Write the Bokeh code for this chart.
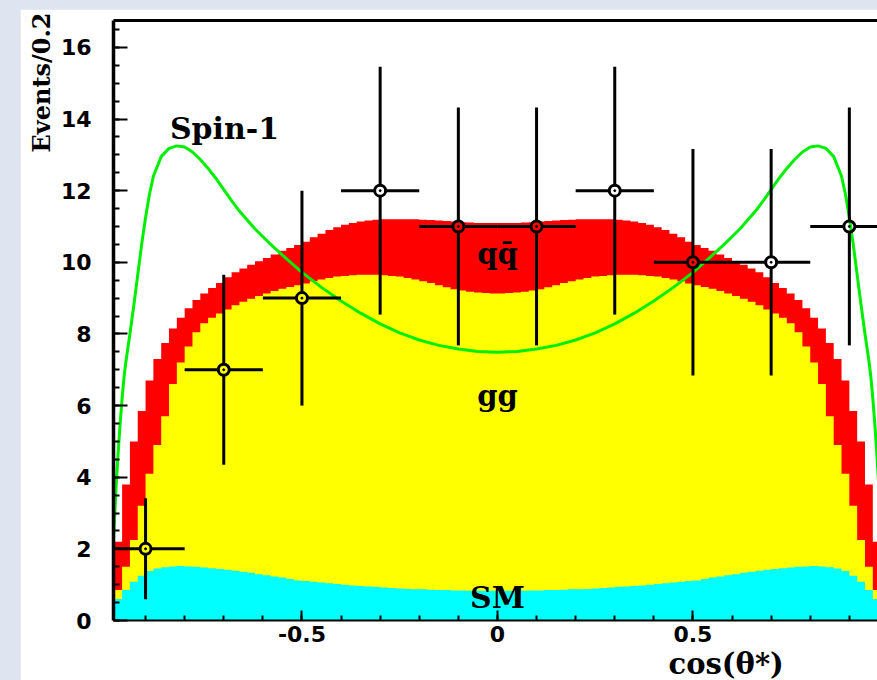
import numpy as np
from bokeh.plotting import figure
from bokeh.models import Range1d, LinearAxis, SingleIntervalTicker, FixedTicker, Label, Title, ColumnDataSource
from bokeh.layouts import column
from bokeh.embed import file_html
from bokeh.resources import INLINE

# ---------------- data ----------------
# histogram bins (width 0.02) on cos(theta*)
bin_centers = np.round(np.linspace(-0.99, 0.99, 100), 2)

# SM (cyan) – stack level 1
sm = [0.15, 0.6, 0.85, 1.08, 1.25, 1.38, 1.45, 1.49, 1.51, 1.52,
      1.51, 1.50, 1.48, 1.46, 1.44, 1.42, 1.39, 1.36, 1.33, 1.29,
      1.26, 1.23, 1.20, 1.16, 1.12, 1.10, 1.08, 1.06, 1.04, 1.02,
      1.00, 0.98, 0.96, 0.95, 0.94, 0.92, 0.91, 0.89, 0.88, 0.87,
      0.87, 0.86, 0.85, 0.85, 0.84, 0.84, 0.83, 0.83, 0.83, 0.83,
      0.83, 0.83, 0.83, 0.83, 0.84, 0.84, 0.85, 0.85, 0.86, 0.87,
      0.87, 0.88, 0.89, 0.91, 0.92, 0.94, 0.95, 0.96, 0.98, 1.00,
      1.02, 1.04, 1.06, 1.08, 1.10, 1.12, 1.16, 1.20, 1.23, 1.26,
      1.29, 1.33, 1.36, 1.39, 1.42, 1.44, 1.46, 1.48, 1.50, 1.51,
      1.52, 1.51, 1.49, 1.45, 1.38, 1.25, 1.08, 0.85, 0.60, 0.15]

# SM + gg (top of yellow)
sm_gg = [0.30, 0.85, 1.50, 2.25, 3.20, 4.10, 4.90, 5.70, 6.60, 7.20,
         7.65, 8.05, 8.30, 8.45, 8.57, 8.68, 8.80, 8.90, 8.98, 9.06,
         9.13, 9.20, 9.26, 9.31, 9.36, 9.41, 9.47, 9.52, 9.56, 9.60,
         9.62, 9.64, 9.65, 9.65, 9.65, 9.64, 9.62, 9.60, 9.56, 9.52,
         9.47, 9.42, 9.36, 9.30, 9.25, 9.21, 9.18, 9.16, 9.14, 9.13,
         9.13, 9.14, 9.16, 9.18, 9.21, 9.25, 9.30, 9.36, 9.42, 9.47,
         9.52, 9.56, 9.60, 9.62, 9.64, 9.65, 9.65, 9.65, 9.64, 9.62,
         9.60, 9.56, 9.52, 9.47, 9.41, 9.36, 9.31, 9.26, 9.20, 9.13,
         9.06, 8.98, 8.90, 8.80, 8.68, 8.57, 8.45, 8.30, 8.05, 7.65,
         7.20, 6.60, 5.70, 4.90, 4.10, 3.20, 2.25, 1.50, 0.85, 0.30]

# SM + gg + qqbar (top of red)
total = [0.60, 2.20, 3.80, 5.00, 5.85, 6.70, 7.30, 7.75, 8.15, 8.45,
         8.72, 8.95, 9.13, 9.28, 9.42, 9.58, 9.72, 9.83, 9.93, 10.03,
         10.12, 10.22, 10.32, 10.40, 10.48, 10.57, 10.70, 10.80, 10.90, 10.98,
         11.05, 11.10, 11.14, 11.17, 11.19, 11.20, 11.20, 11.20, 11.20, 11.20,
         11.19, 11.18, 11.17, 11.15, 11.14, 11.12, 11.11, 11.10, 11.10, 11.10,
         11.10, 11.10, 11.10, 11.11, 11.12, 11.14, 11.15, 11.17, 11.18, 11.19,
         11.20, 11.20, 11.20, 11.20, 11.20, 11.19, 11.17, 11.14, 11.10, 11.05,
         10.98, 10.90, 10.80, 10.70, 10.57, 10.48, 10.40, 10.32, 10.22, 10.12,
         10.03, 9.93, 9.83, 9.72, 9.58, 9.42, 9.28, 9.13, 8.95, 8.72,
         8.45, 8.15, 7.75, 7.30, 6.70, 5.85, 5.00, 3.80, 2.20, 0.60]

# Spin-1 curve
spin_x = [-0.985, -0.98, -0.975, -0.97, -0.965, -0.96, -0.955, -0.95, -0.94, -0.93,
          -0.92, -0.91, -0.90, -0.89, -0.88, -0.86, -0.84, -0.82, -0.80, -0.78,
          -0.76, -0.74, -0.72, -0.70, -0.68, -0.66, -0.62, -0.58, -0.54, -0.50,
          -0.45, -0.40, -0.35, -0.30, -0.25, -0.20, -0.15, -0.10, -0.05, 0.00,
          0.05, 0.10, 0.15, 0.20, 0.25, 0.30, 0.35, 0.40, 0.45, 0.50,
          0.54, 0.58, 0.62, 0.66, 0.68, 0.70, 0.72, 0.74, 0.76, 0.78,
          0.80, 0.82, 0.84, 0.86, 0.88, 0.89, 0.90, 0.91, 0.92, 0.93,
          0.94, 0.95, 0.955, 0.96, 0.965, 0.97, 0.975, 0.98, 0.985]
spin_y = [1.6, 2.7, 3.8, 4.7, 5.5, 6.2, 6.8, 7.25, 8.0, 8.8,
          9.65, 10.5, 11.25, 11.9, 12.4, 12.95, 13.18, 13.25, 13.22, 13.08,
          12.87, 12.62, 12.34, 12.03, 11.72, 11.43, 10.93, 10.5, 10.1, 9.72,
          9.3, 8.92, 8.58, 8.28, 8.03, 7.83, 7.68, 7.58, 7.51, 7.49,
          7.51, 7.58, 7.68, 7.83, 8.03, 8.28, 8.58, 8.92, 9.3, 9.72,
          10.1, 10.5, 10.93, 11.43, 11.72, 12.03, 12.34, 12.62, 12.87, 13.08,
          13.22, 13.25, 13.18, 12.95, 12.4, 11.9, 11.25, 10.5, 9.65, 8.8,
          8.0, 7.25, 6.8, 6.2, 5.5, 4.7, 3.8, 2.7, 1.6]

# data points
data_x = [-0.9, -0.7, -0.5, -0.3, -0.1, 0.1, 0.3, 0.5, 0.7, 0.9]
data_y = [2, 7, 9, 12, 11, 11, 12, 10, 10, 11]
data_yerr = [1.41, 2.65, 3.0, 3.46, 3.32, 3.32, 3.46, 3.16, 3.16, 3.32]
data_xerr = [0.1, 0.1, 0.1, 0.1, 0.1, 0.1, 0.1, 0.1, 0.1, 0.1]

y_ticks_interval = 2
x_ticks_interval = 0.5
x_label_overrides = {-0.5: "-0.5", 0: "0", 0.5: "0.5"}

# ---------------- figure ----------------
SERIF = "DejaVu Serif"
SANS = "DejaVu Sans"

p = figure(width=857, height=671, output_backend="svg", toolbar_location=None,
           x_range=Range1d(-0.982, 0.972), y_range=Range1d(0, 16.75),
           min_border_left=93, min_border_right=0, min_border_top=11, min_border_bottom=58,
           background_fill_color="white", border_fill_color="white")
p.margin = (9, 0, 0, 20)
p.outline_line_color = None
p.xgrid.visible = False
p.ygrid.visible = False

# axes styling
p.yaxis.ticker = SingleIntervalTicker(interval=y_ticks_interval, num_minor_ticks=4)
p.xaxis.ticker = SingleIntervalTicker(interval=x_ticks_interval, num_minor_ticks=5)
p.xaxis.major_label_overrides = x_label_overrides
for ax in (p.xaxis[0], p.yaxis[0]):
    ax.major_tick_out = 0
    ax.minor_tick_out = 0
    ax.major_tick_line_color = "black"
    ax.minor_tick_line_color = "black"
    ax.major_tick_line_width = 2
    ax.minor_tick_line_width = 2
    ax.major_label_text_font = SANS
    ax.major_label_text_font_style = "bold"
    ax.major_label_text_font_size = "22px"
    ax.major_label_text_color = "black"
    ax.axis_line_color = "black"
p.yaxis.major_tick_in = 14
p.yaxis.minor_tick_in = 6
p.yaxis.axis_line_width = 3.5
p.yaxis.major_label_standoff = 22
p.xaxis.major_tick_in = 10
p.xaxis.minor_tick_in = 5
p.xaxis.axis_line_width = 2
p.xaxis.major_label_standoff = 5

top_axis = LinearAxis(ticker=FixedTicker(ticks=[]), major_tick_in=0, major_tick_out=0,
                      minor_tick_in=0, minor_tick_out=0, major_label_text_font_size="0px",
                      axis_line_width=3, axis_line_color="black", major_label_standoff=0)
p.add_layout(top_axis, "above")

# axis titles as side titles (placed outside the frame)
y_title = Title(text="Events/0.2", align="right", text_font=SERIF, text_font_style="bold",
                text_font_size="24px", text_color="black", standoff=4, offset=-8)
p.add_layout(y_title, "left")
x_title = Title(text="cos(\u03b8*)", align="left", text_font=SERIF, text_font_style="bold",
                text_font_size="29px", text_color="black", standoff=0, offset=555)
p.add_layout(x_title, "below")

# stacked histograms (drawn as overlapping areas from zero)
src = ColumnDataSource(dict(x=bin_centers, sm=sm, smgg=sm_gg, tot=total,
                            zero=np.zeros(len(bin_centers))))
p.varea_step(x="x", y1="zero", y2="tot", step_mode="center", source=src, fill_color="#ff0000")
p.varea_step(x="x", y1="zero", y2="smgg", step_mode="center", source=src, fill_color="#ffff00")
p.varea_step(x="x", y1="zero", y2="sm", step_mode="center", source=src, fill_color="#00ffff")

# Spin-1 curve
p.line(spin_x, spin_y, line_color="#00ee00", line_width=3)

# data with error bars
dx = np.array(data_x, dtype=float)
dy = np.array(data_y, dtype=float)
ey = np.array(data_yerr)
ex = np.array(data_xerr)
yg = 0.17   # gap around marker (data units)
xg = 0.016
seg_kw = dict(line_color="black", line_width=3, line_cap="butt")
p.segment(dx, dy + yg, dx, dy + ey, **seg_kw)
p.segment(dx, dy - ey, dx, dy - yg, **seg_kw)
p.segment(dx - ex, dy, dx - xg, dy, **seg_kw)
p.segment(dx + xg, dy, dx + ex, dy, **seg_kw)
p.scatter(dx, dy, marker="circle", size=11, fill_color=None, line_color="black", line_width=3)
p.scatter(dx, dy, marker="circle", size=2, fill_color="black", line_color="black")

# text labels inside the frame
def add_label(x, y, text, size):
    p.add_layout(Label(x=x, y=y, text=text, text_font=SERIF, text_font_style="bold",
                       text_font_size=size, text_align="center", text_baseline="alphabetic",
                       text_color="black"))

add_label(-0.698, 13.74, "Spin-1", "30px")
add_label(0.0, 10.24, "q\u0071\u0304", "29px")
add_label(0.0, 6.26, "gg", "29px")
add_label(0.0, 0.64, "SM", "30px")

layout = column(p, styles={"background-color": "#dee4f0"})
open("out.html", "w").write(file_html(layout, INLINE))
